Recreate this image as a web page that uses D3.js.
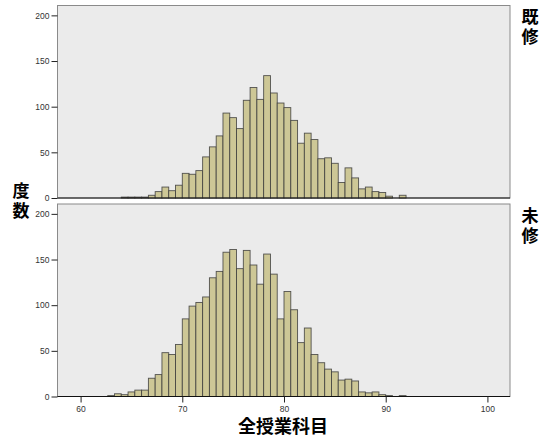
<!DOCTYPE html>
<html>
<head>
<meta charset="utf-8">
<script src="https://cdn.jsdelivr.net/npm/d3@7"></script>
<style>
  body { margin: 0; background: #fff; }
  text { font-family: "Liberation Sans", Arial, sans-serif; }
  .cjk { font-family: "Noto Sans CJK JP", sans-serif; font-weight: bold; }
  .vert { writing-mode: vertical-rl; text-orientation: upright; letter-spacing: 3px; }
</style>
</head>
<body>
<div id="chart"></div>
<script>
// bins are 2/3 wide, starting values
const binWidth = 2 / 3;
const topStart = 64;       // first bin of 既修
const bottomStart = 62.6667; // first bin of 未修

const topCounts = [1, 1, 1, 1, 3, 7, 12, 8, 14, 27, 26, 30, 45, 56, 68, 93, 88, 76, 107, 121,
  108, 134, 115, 104, 99, 85, 60, 71, 64, 43, 44, 38, 17, 33, 22, 10, 12, 7, 6, 2, 0, 3];
const bottomCounts = [1, 3, 2, 5, 7, 7, 20, 24, 48, 46, 57, 85, 99, 103, 109, 130, 137, 158, 161, 140,
  160, 144, 123, 156, 134, 85, 115, 95, 59, 75, 46, 37, 30, 27, 18, 19, 17, 5, 4, 5, 2, 1, 0, 1];

const yTicks = [0, 50, 100, 150, 200];
const xTicks = [60, 70, 80, 90, 100];
const panels = [
  {label: "既修", start: topStart, counts: topCounts},
  {label: "未修", start: bottomStart, counts: bottomCounts}
];

const width = 545, height = 441;
const left = 57.5, right = 510;
const panelTops = [5.5, 204];
const panelHeight = 192.5;

const svg = d3.select("#chart").append("svg")
  .attr("width", width)
  .attr("height", height);

const x = d3.scaleLinear()
  .domain([57.73, 102.22])
  .range([left, right]);

// vertical label, one text element
function vertical(sel, str, cx, y0) {
  sel.append("text")
    .attr("class", "cjk vert")
    .attr("x", cx)
    .attr("y", y0)
    .attr("font-size", 17)
    .attr("fill", "#000")
    .text(str);
}

panels.forEach((p, i) => {
  const top = panelTops[i];
  const bottom = top + panelHeight;
  const y = d3.scaleLinear()
    .domain([0, 210.8])
    .range([bottom, top]);

  const g = svg.append("g");

  g.append("rect")
    .attr("x", left)
    .attr("y", top)
    .attr("width", right - left)
    .attr("height", panelHeight)
    .attr("fill", "#ebebeb")
    .attr("stroke", "#8a8a8a")
    .attr("stroke-width", 1);

  const bins = p.counts.map((c, k) => ({x0: p.start + k * binWidth, x1: p.start + (k + 1) * binWidth, n: c}));

  g.selectAll(".bar")
    .data(bins.filter(d => d.n > 0))
    .enter()
    .append("rect")
    .attr("x", d => x(d.x0))
    .attr("y", d => y(d.n))
    .attr("width", d => x(d.x1) - x(d.x0))
    .attr("height", d => y(0) - y(d.n))
    .attr("fill", "#cdc796")
    .attr("stroke", "#3a3a3a")
    .attr("stroke-opacity", 0.85)
    .attr("stroke-width", 0.9);

  // baseline
  g.append("line")
    .attr("x1", left).attr("x2", right)
    .attr("y1", y(0)).attr("y2", y(0))
    .attr("stroke", "#111")
    .attr("stroke-width", 1.2);

  const yAxis = g.append("g")
    .attr("transform", "translate(" + left + ",0)")
    .call(d3.axisLeft(y).tickValues(yTicks).tickSize(6).tickPadding(2));
  yAxis.select(".domain").remove();
  yAxis.selectAll("line").attr("stroke", "#222");
  yAxis.selectAll("text").attr("font-size", 8.5).attr("fill", "#333");

  // strip label on the right
  vertical(g, p.label, 530, top + 3);

  if (i === 1) {
    const xAxis = g.append("g")
      .attr("transform", "translate(0," + bottom + ")")
      .call(d3.axisBottom(x).tickValues(xTicks).tickSize(6).tickPadding(3));
    xAxis.select(".domain").remove();
    xAxis.selectAll("line").attr("stroke", "#222");
    xAxis.selectAll("text").attr("font-size", 8.5).attr("fill", "#333");
  }
});

// y label
vertical(svg, "度数", 21, 182);

// x label
svg.append("text")
  .attr("class", "cjk")
  .attr("x", 283)
  .attr("y", 433)
  .attr("text-anchor", "middle")
  .attr("font-size", 18)
  .text("全授業科目");
</script>
</body>
</html>
